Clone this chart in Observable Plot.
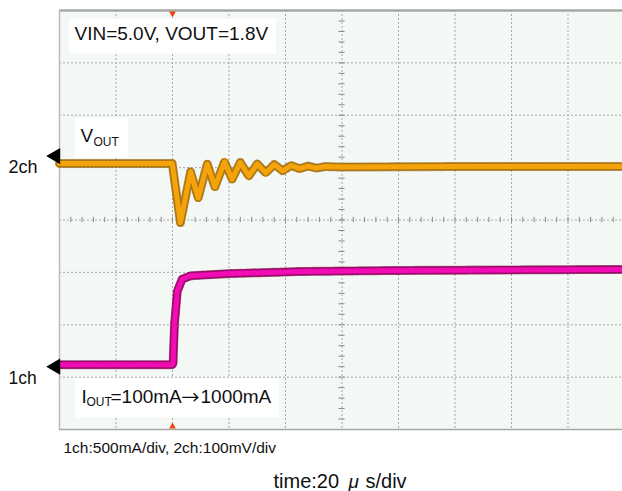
<!DOCTYPE html>
<html>
<head>
<meta charset="utf-8">
<script src="https://cdn.jsdelivr.net/npm/d3@7"></script>
<script src="https://cdn.jsdelivr.net/npm/@observablehq/plot@0.6"></script>
<style>
  html, body { margin: 0; padding: 0; background: #fff; }
</style>
</head>
<body>
<div id="chart"></div>
<script>
// ---- data (time in µs, 20 µs/div; screen spans 10 div) ----
const voutTime = [0, 39.9, 42.8, 46.4, 49.1, 52.3, 55.0, 58.4, 61.1, 64.0, 67.0, 70.0, 73.0, 76.0, 79.0, 82.0, 85.0, 88.0, 91.0, 94.0, 100.0, 140.0, 200.0];
const voutDevMv = [0, 0, -113, -16, -66, -1, -45, 3, -30, 2, -24, -1, -18, -2, -14, -4, -10, -5, -9, -6, -7, -6, -6];
const ioutTime = [0, 39.9, 40.2, 40.7, 41.7, 43.4, 46.4, 50.0, 60.6, 85.4, 120.8, 200.0];
const ioutMa = [100, 100, 110, 486, 801, 916, 949, 955, 970, 990, 1000, 1010];

const ch2Scale = 100;   // mV/div
const ch1Scale = 500;   // mA/div
const ch2Level = 1.08;  // div position of VOUT=1.8V
const ch1Zero = -2.963; // div position of 0 mA
const ch2Marker = 1.22;
const ch1Marker = -2.80;
const triggerTime = 40;

const xTicks = d3.range(20, 200, 20);
const yTicks = d3.range(-3, 4, 1);
const minorX = d3.range(4, 200, 4);
const minorY = d3.range(-3.8, 4, 0.2);

const vout = voutTime.map((t, i) => ({t, y: ch2Level + voutDevMv[i] / ch2Scale}));
const iout = ioutTime.map((t, i) => ({t, y: ch1Zero + ioutMa[i] / ch1Scale}));

const font = "'Liberation Sans', Arial, Helvetica, sans-serif";
const cjk = "'Noto Sans CJK JP', 'DejaVu Sans', sans-serif";
const grid = {stroke: "#a8a8a8", strokeWidth: 1, strokeDasharray: "2,2", strokeOpacity: 1};
const txt = {frameAnchor: "top-left", textAnchor: "start", lineAnchor: "bottom", fill: "#111"};

const chart = Plot.plot({
  width: 622,
  height: 491,
  marginLeft: 59,
  marginRight: -2,
  marginTop: 10,
  marginBottom: 62,
  x: {domain: [0, 200], axis: null},
  y: {domain: [-4, 4], axis: null},
  style: {fontFamily: font, background: "#ffffff", color: "#000"},
  marks: [
    Plot.frame({fill: "#f4f8f5", stroke: null}),
    Plot.ruleX(xTicks, {...grid}),
    Plot.ruleY(yTicks, {...grid}),
    Plot.ruleX(minorX, {x: d => d, y1: -0.05, y2: 0.05, stroke: "#8a8a8a", strokeWidth: 1}),
    Plot.ruleY(minorY, {y: d => d, x1: 98.9, x2: 101.1, stroke: "#8a8a8a", strokeWidth: 1}),
    Plot.ruleY([4], {stroke: "#a8a8a8", strokeWidth: 2.5}),
    Plot.ruleY([-4], {stroke: "#a8a8a8", strokeWidth: 1.5}),
    Plot.ruleX([0], {stroke: "#bbbbbb", strokeWidth: 1.5}),
    // white annotation boxes
    Plot.rect([0], {x1: 3.54, x2: 76.8, y1: 3.836, y2: 3.168, fill: "#fff"}),
    Plot.rect([0], {x1: 5.66, x2: 24.4, y1: 1.947, y2: 1.183, fill: "#fff"}),
    Plot.rect([0], {x1: 5.66, x2: 77.9, y1: -3.034, y2: -3.779, fill: "#fff"}),
    // traces
    Plot.line(iout, {x: "t", y: "y", stroke: "#f20cb4", strokeWidth: 8, strokeLinejoin: "round"}),
    Plot.line(iout, {x: "t", y: "y", stroke: "#5a0830", strokeWidth: 9, strokeDasharray: "1,2.5", strokeOpacity: 0.55, strokeLinejoin: "round"}),
    Plot.line(vout, {x: "t", y: "y", stroke: "#f5a30a", strokeWidth: 8, strokeLinejoin: "round"}),
    Plot.line(vout, {x: "t", y: "y", stroke: "#6a4a10", strokeWidth: 9, strokeDasharray: "1,2.5", strokeOpacity: 0.5, strokeLinejoin: "round"}),
    Plot.line(vout, {x: "t", y: "y", stroke: "#f5a30a", strokeWidth: 5, strokeLinejoin: "round"}),
    Plot.line(iout, {x: "t", y: "y", stroke: "#f20cb4", strokeWidth: 5, strokeLinejoin: "round"}),
    // channel markers
    Plot.dot([ch2Marker], {x: 0, y: d => d, dx: -4, symbol: "triangle", rotate: -90, r: 6, fill: "#000", stroke: null}),
    Plot.dot([ch1Marker], {x: 0, y: d => d, dx: -4, symbol: "triangle", rotate: -90, r: 6, fill: "#000", stroke: null}),
    // trigger markers
    Plot.dot([4], {x: triggerTime, y: d => d, dy: 3, symbol: "triangle", rotate: 180, r: 2.5, fill: "#ee4411", stroke: null}),
    Plot.dot([-4], {x: triggerTime, y: d => d, dy: -3, symbol: "triangle", rotate: 0, r: 2.5, fill: "#ee4411", stroke: null}),
    // texts
    Plot.text(["VIN=5.0V, VOUT=1.8V"], {...txt, dx: 15, dy: 29.5, fontSize: 19}),
    Plot.text(["V"], {...txt, dx: 21, dy: 131, fontSize: 19}),
    Plot.text(["OUT"], {...txt, dx: 34, dy: 135, fontSize: 12}),
    Plot.text(["I"], {...txt, dx: 22, dy: 392, fontSize: 19}),
    Plot.text(["OUT"], {...txt, dx: 27, dy: 395, fontSize: 12}),
    Plot.text(["=100mA"], {...txt, dx: 51, dy: 392, fontSize: 19}),
    Plot.text(["→"], {...txt, dx: 122, dy: 393, fontSize: 18, fontFamily: cjk}),
    Plot.text(["1000mA"], {...txt, dx: 141, dy: 392, fontSize: 19}),
    Plot.text(["2ch"], {...txt, dx: -51, dy: 162, fontSize: 18}),
    Plot.text(["1ch"], {...txt, dx: -51, dy: 373, fontSize: 17.5}),
    Plot.text(["1ch:500mA/div, 2ch:100mV/div"], {...txt, dx: 4, dy: 442, fontSize: 15.5}),
    Plot.text(["time:20"], {frameAnchor: "top-left", textAnchor: "start", lineAnchor: "bottom", fill: "#111", dx: 214, dy: 477, fontSize: 20}),
    Plot.text(["μ"], {frameAnchor: "top-left", textAnchor: "start", lineAnchor: "bottom", fill: "#111", dx: 289, dy: 477, fontSize: 19, fontStyle: "italic"}),
    Plot.text(["s/div"], {frameAnchor: "top-left", textAnchor: "start", lineAnchor: "bottom", fill: "#111", dx: 306, dy: 477, fontSize: 20})
  ]
});
document.getElementById("chart").appendChild(chart);
</script>
</body>
</html>
